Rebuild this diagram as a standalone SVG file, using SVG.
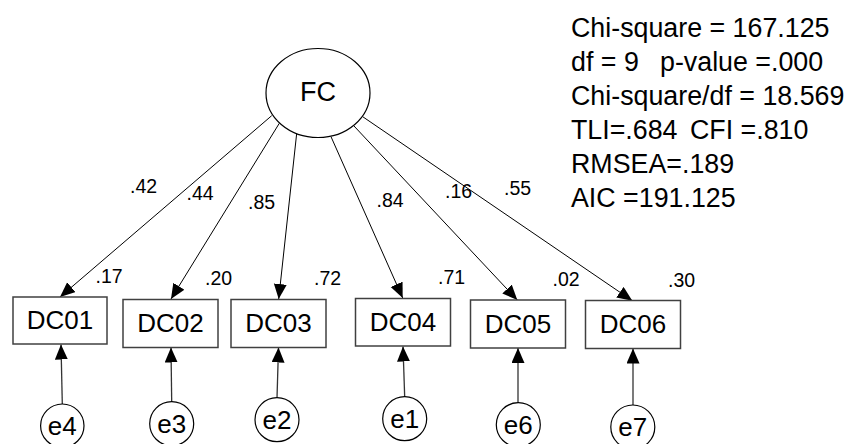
<svg xmlns="http://www.w3.org/2000/svg" width="848" height="444" viewBox="0 0 848 444">
<style>
text{font-family:"Liberation Sans",Arial,sans-serif;fill:#000}
.big{font-size:26px}
.fc{font-size:27px}
.lab{font-size:19.5px}
.st{font-size:26.8px}
.box{fill:#fff;stroke:#404040;stroke-width:1.5}
.circ{fill:#fff;stroke:#000;stroke-width:1.2}
.edge{stroke:#000;stroke-width:1;fill:none}
.err{stroke:#333;stroke-width:1.3;fill:none}
</style>
<defs>
<marker id="ah" markerUnits="userSpaceOnUse" markerWidth="16" markerHeight="14" refX="15" refY="6.5" orient="auto">
<path d="M0,0 L15,6.5 L0,13 z" fill="#000"/>
</marker>
</defs>
<g id="connectors">
<line class="edge" x1="271.7" y1="115.7" x2="60" y2="297" marker-end="url(#ah)"/>
<line class="edge" x1="279.3" y1="123.3" x2="171" y2="299" marker-end="url(#ah)"/>
<line class="edge" x1="296.7" y1="133.3" x2="278.7" y2="299" marker-end="url(#ah)"/>
<line class="edge" x1="331" y1="136.7" x2="402.7" y2="298" marker-end="url(#ah)"/>
<line class="edge" x1="354" y1="126" x2="517.3" y2="300" marker-end="url(#ah)"/>
<line class="edge" x1="362.7" y1="116.7" x2="632.3" y2="300.7" marker-end="url(#ah)"/>
<line class="err" x1="62.3" y1="404" x2="61" y2="344.5" marker-end="url(#ah)"/>
<line class="err" x1="171.7" y1="402" x2="171" y2="347.5" marker-end="url(#ah)"/>
<line class="err" x1="277" y1="398" x2="278.5" y2="347.5" marker-end="url(#ah)"/>
<line class="err" x1="404.7" y1="397" x2="403" y2="346.5" marker-end="url(#ah)"/>
<line class="err" x1="518" y1="403" x2="518" y2="348" marker-end="url(#ah)"/>
<line class="err" x1="633" y1="405" x2="633" y2="348.5" marker-end="url(#ah)"/>
<text class="lab" x="130" y="193">.42</text>
<text class="lab" x="186.5" y="200">.44</text>
<text class="lab" x="248" y="209">.85</text>
<text class="lab" x="376.5" y="207">.84</text>
<text class="lab" x="445" y="198">.16</text>
<text class="lab" x="504" y="195">.55</text>
</g>
<g id="FC">
<ellipse cx="318" cy="93" rx="52" ry="44.5" fill="#fff" stroke="#000" stroke-width="1.2"/>
<text class="fc" x="318" y="101" text-anchor="middle">FC</text>
</g>
<g id="DC01">
<rect class="box" x="13" y="297" width="94" height="47"/>
<text class="big" x="60" y="329" text-anchor="middle">DC01</text>
<text class="lab" x="95.5" y="283">.17</text>
</g>
<g id="DC02">
<rect class="box" x="123" y="299.5" width="95" height="48"/>
<text class="big" x="170.5" y="332" text-anchor="middle">DC02</text>
<text class="lab" x="205" y="285">.20</text>
</g>
<g id="DC03">
<rect class="box" x="231" y="299.5" width="95" height="48"/>
<text class="big" x="278.5" y="332" text-anchor="middle">DC03</text>
<text class="lab" x="314" y="285">.72</text>
</g>
<g id="DC04">
<rect class="box" x="355.5" y="298.5" width="95" height="47.5"/>
<text class="big" x="403" y="331" text-anchor="middle">DC04</text>
<text class="lab" x="438" y="284">.71</text>
</g>
<g id="DC05">
<rect class="box" x="470.5" y="300" width="95" height="48"/>
<text class="big" x="518" y="332.5" text-anchor="middle">DC05</text>
<text class="lab" x="552.5" y="286">.02</text>
</g>
<g id="DC06">
<rect class="box" x="585.5" y="300.5" width="95" height="48"/>
<text class="big" x="633" y="333" text-anchor="middle">DC06</text>
<text class="lab" x="668" y="286.5">.30</text>
</g>
<g id="e4"><circle class="circ" cx="62.3" cy="425.7" r="21.7"/><text class="big" x="62.3" y="434.5" text-anchor="middle">e4</text></g>
<g id="e3"><circle class="circ" cx="171.7" cy="423.7" r="22"/><text class="big" x="171.7" y="432.5" text-anchor="middle">e3</text></g>
<g id="e2"><circle class="circ" cx="277" cy="419.7" r="22"/><text class="big" x="277" y="428.5" text-anchor="middle">e2</text></g>
<g id="e1"><circle class="circ" cx="404.7" cy="418.7" r="22"/><text class="big" x="404.7" y="427.5" text-anchor="middle">e1</text></g>
<g id="e6"><circle class="circ" cx="518.3" cy="424.7" r="22"/><text class="big" x="518.3" y="433.5" text-anchor="middle">e6</text></g>
<g id="e7"><circle class="circ" cx="632.8" cy="427" r="22"/><text class="big" x="632.8" y="435.8" text-anchor="middle">e7</text></g>
<g id="stats">
<text class="st" x="571" y="37">Chi-square = 167.125</text>
<text class="st" y="71"><tspan x="571">df = 9</tspan><tspan x="660">p-value =.000</tspan></text>
<text class="st" x="571" y="105">Chi-square/df = 18.569</text>
<text class="st" y="139"><tspan x="571">TLI=.684</tspan><tspan x="690">CFI =.810</tspan></text>
<text class="st" x="571" y="173">RMSEA=.189</text>
<text class="st" x="571" y="207">AIC =191.125</text>
</g>
</svg>
